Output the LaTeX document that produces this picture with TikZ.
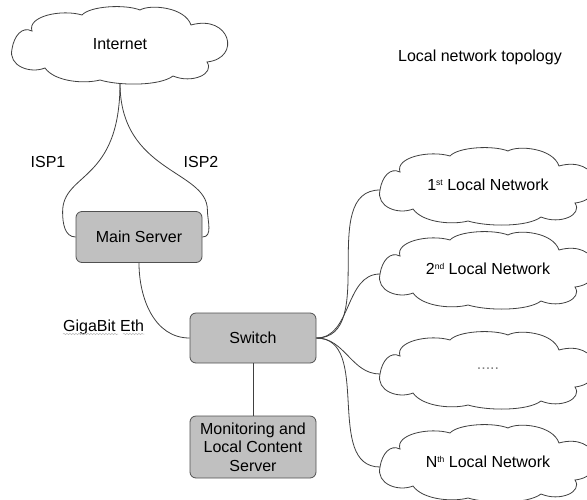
\documentclass[tikz,border=0pt]{standalone}
\usepackage{fontspec}
\setmainfont{Liberation Sans}
\usetikzlibrary{calc,decorations.pathmorphing}
\definecolor{wirec}{HTML}{404040}
\definecolor{boxline}{HTML}{505050}
\definecolor{boxfill}{HTML}{C0C0C0}
\tikzset{
  wire/.style={draw=wirec, line width=0.8pt},
  box/.style={draw=boxline, fill=boxfill, rounded corners=6pt, line width=0.8pt,
    minimum width=126pt, inner sep=0pt, align=center, font=\fontsize{16}{18.3}\selectfont},
  cloudline/.style={draw=wirec, fill=white, line width=0.8pt},
  lbl/.style={inner sep=0pt, font=\fontsize{16}{18.3}\selectfont},
  squiggle/.style={draw=gray!55, line width=0.5pt, decorate,
    decoration={snake, amplitude=0.7pt, segment length=3pt}},
}
\newcommand{\supx}[1]{\raisebox{5.5pt}{\fontsize{8.5}{8.5}\selectfont #1}}
\newcommand{\netcloud}[4]{%
  \begin{scope}[shift={(#2,-#3)}]
    \draw[cloudline] (-108,-5) coordinate (#1tip)
      .. controls (-106,8) and (-98,18) .. (-88,13)
      .. controls (-93,28) and (-58,35) .. (-38,29)
      .. controls (-30,38) and (5,40) .. (20,34)
      .. controls (30,40) and (65,37) .. (71,19)
      .. controls (110,30) and (122,-14) .. (87,-18)
      .. controls (95,-30) and (72,-40) .. (53,-32)
      .. controls (40,-42) and (0,-42) .. (-20,-36)
      .. controls (-35,-40) and (-65,-38) .. (-75,-24)
      .. controls (-90,-30) and (-112,-22) .. (-108,-5) -- cycle;
    \coordinate (#1bot) at (0,-39);
  \end{scope}
  \node[lbl] (#1) at (#2,-#3) {#4};
}
\begin{document}
\begin{tikzpicture}[x=1pt,y=1pt]
\useasboundingbox (0,0) rectangle (587,-499);
\clip (0,0) rectangle (587,-499);
\fill[white] (0,0) rectangle (587,-499);

% clouds
\netcloud{inet}{120}{44}{Internet}
\netcloud{ca}{488}{185}{1\supx{st} Local Network}
\netcloud{cb}{488}{269}{2\supx{nd} Local Network}
\netcloud{cc}{488}{369}{\textcolor{gray}{.....}}
\netcloud{cn}{488}{462}{N\supx{th} Local Network}

% boxes
\node[box, minimum height=51pt] (ms) at (139,-237) {Main Server};
\node[box, minimum height=50pt] (sw) at (253,-338) {Switch};
\node[box, minimum height=62pt] (mon) at (253,-447) {Monitoring and\\Local Content\\Server};

% labels
\node[lbl] (isp1) at (48,-162) {ISP1};
\node[lbl] (isp2) at (201,-162) {ISP2};
\node[lbl] (title) at (480,-57) {Local network topology};
\node[lbl, anchor=base west] (geth) at (63,-331) {GigaBit Eth};
\draw[squiggle] ($(geth.base west)+(0,-3)$) -- ($(geth.base west)+(55,-3)$);
\draw[squiggle] ($(geth.base west)+(60,-3)$) -- ($(geth.base east)+(0,-3)$);

% ISP links
\coordinate (wl) at ($(ms.west)+(-13,25)$);
\coordinate (wr) at ($(ms.east)+(5,27)$);
\draw[wire] (inetbot) .. controls +(0,-100) and +(0,40) .. (wl) to[out=-90,in=180] (ms.west);
\draw[wire] (inetbot) .. controls +(0,-90) and +(0,40) .. (wr) to[out=-90,in=0] (ms.east);

% server to switch
\draw[wire] (ms.south) to[out=-90,in=180] (sw.west);
\draw[wire] (sw.south) -- (mon.north);

% switch to local networks
\draw[wire] (sw.east) to[out=0,in=180] (catip);
\draw[wire] (sw.east) to[out=0,in=180] (cbtip);
\draw[wire] (sw.east) to[out=0,in=180] (cctip);
\draw[wire] (sw.east) to[out=0,in=180] (cntip);
\end{tikzpicture}
\end{document}
